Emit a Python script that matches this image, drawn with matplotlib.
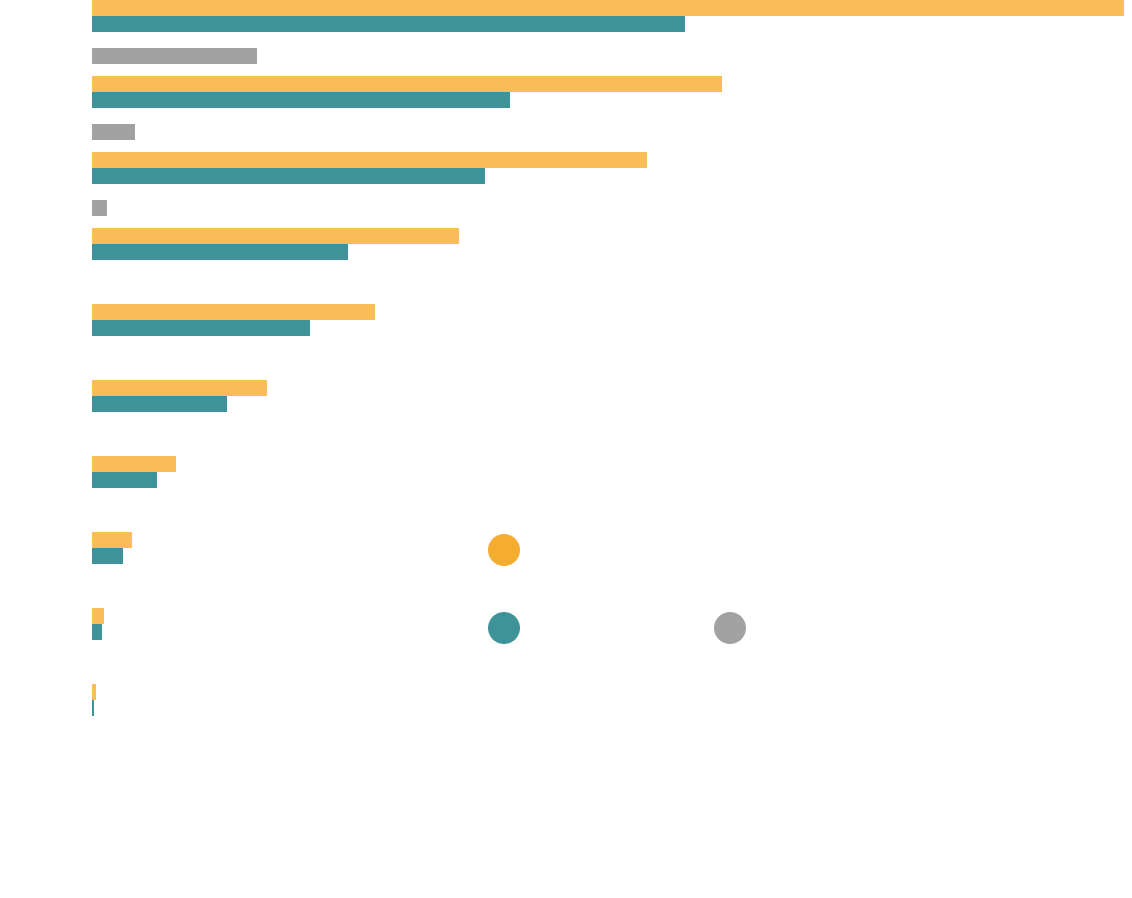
import numpy as np
import matplotlib
matplotlib.use("Agg")
import matplotlib.pyplot as plt

# values (arbitrary units, longest bar = 1032)
orange_vals = [1032, 630, 555, 367, 283, 175, 84, 40, 12, 4]
teal_vals = [593, 418, 393, 256, 218, 135, 65, 31, 10, 2]
gray_vals = [165, 43, 15]

ORANGE_BAR = "#F9BC58"
ORANGE = "#F5AD2F"
TEAL = "#3E9399"
GRAY = "#A1A2A1"

W, H = 1132, 898


def main():
	fig = plt.figure(figsize=(W / 100, H / 100), dpi=100)
	fig.patch.set_facecolor("white")

	# axes begins at x=92px, spans 1032px, full height
	ax = fig.add_axes([92 / W, 0, 1032 / W, 1])
	ax.set_xlim(0, max(orange_vals))
	slot = 16.0
	ax.set_ylim(H / slot, 0)
	ax.axis("off")

	group = np.arange(len(orange_vals)) * 4.75
	ax.barh(group + 0.5, orange_vals, height=1.0, color=ORANGE_BAR, left=0)
	ax.barh(group + 1.5, teal_vals, height=1.0, color=TEAL, left=0)
	ax.barh(group[:len(gray_vals)] + 3.5, gray_vals, height=1.0, color=GRAY, left=0)

	# legend dots (no labels in the picture)
	dots = fig.add_axes([0, 0, 1, 1])
	dots.set_xlim(0, W)
	dots.set_ylim(H, 0)
	dots.axis("off")
	dots.scatter([504, 504, 730], [550, 628, 628], s=531,
				 c=[ORANGE, TEAL, GRAY], linewidths=0)

	fig.savefig("out.png", dpi=100, facecolor="white")


if __name__ == "__main__":
	main()
